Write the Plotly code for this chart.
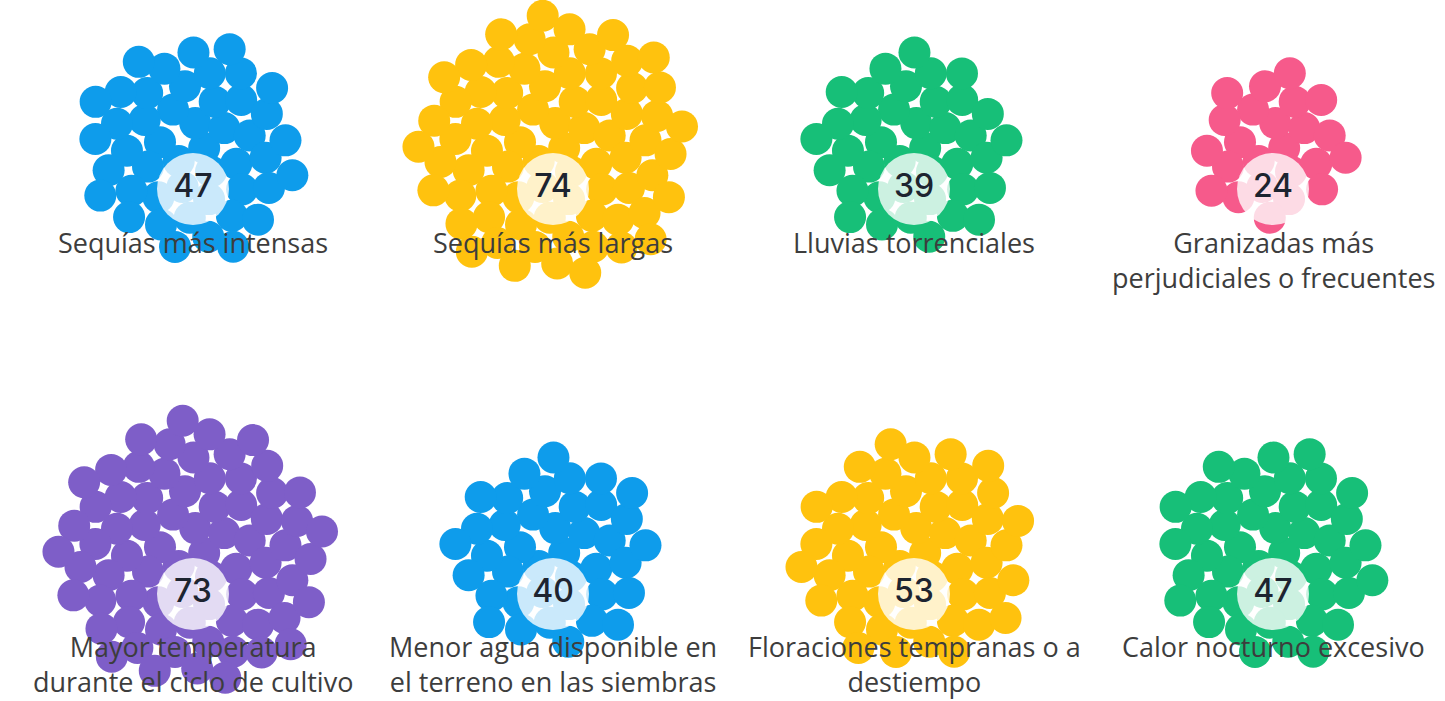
import math
import plotly.graph_objects as go

# ---- data ----
categories = [
    "Sequías más intensas",
    "Sequías más largas",
    "Lluvias torrenciales",
    "Granizadas más<br>perjudiciales o frecuentes",
    "Mayor temperatura<br>durante el ciclo de cultivo",
    "Menor agua disponible en<br>el terreno en las siembras",
    "Floraciones tempranas o a<br>destiempo",
    "Calor nocturno excesivo",
]
values = [47, 74, 39, 24, 73, 40, 53, 47]
colors = ["#0E9CEB", "#FFC20E", "#17BF78", "#F65A8B",
          "#7E5EC8", "#0E9CEB", "#FFC20E", "#17BF78"]

# ---- layout constants (pixel space) ----
W, H = 1445, 701
COL_X = [193, 553, 914, 1273]
CLUSTER_Y = [148, 553]
BADGE_DY = 41
LABEL_Y = [242, 646]   # middle of first label line
FONT_SIZE = 27
LINE_H = 1.3 * FONT_SIZE
DOT = 32
SPACING = 15.8
GOLDEN = math.pi * (3 - math.sqrt(5))

fig = go.Figure()
annotations = []

for idx, (cat, val, col) in enumerate(zip(categories, values, colors)):
    r, c = divmod(idx, 4)
    cx, cy = COL_X[c], CLUSTER_Y[r]
    xs, ys = [], []
    for i in range(val):
        rad = SPACING * math.sqrt(i + 0.5)
        th = i * GOLDEN
        xs.append(cx + rad * math.cos(th))
        ys.append(cy + rad * math.sin(th))
    fig.add_trace(go.Scatter(
        x=xs, y=ys, mode="markers",
        marker=dict(size=DOT, color=col, line=dict(width=0)),
        hoverinfo="skip", showlegend=False))
    fig.add_trace(go.Scatter(
        x=[cx], y=[cy + BADGE_DY], mode="markers+text",
        marker=dict(size=72, color="rgba(255,255,255,0.78)", line=dict(width=0)),
        text=[str(val)], textposition="middle center",
        textfont=dict(family="Inter", size=32, color="#1d2430", weight=500),
        hoverinfo="skip", showlegend=False))
    nlines = cat.count("<br>") + 1
    annotations.append(dict(
        x=cx, y=LABEL_Y[r] + (nlines - 1) * LINE_H / 2, xref="x", yref="y",
        text=cat, showarrow=False, xanchor="center", yanchor="middle",
        align="center",
        font=dict(family="Open Sans", size=FONT_SIZE, color="#3d3d3d")))

fig.update_layout(
    width=W, height=H,
    margin=dict(l=0, r=0, t=0, b=0),
    paper_bgcolor="white", plot_bgcolor="white",
    xaxis=dict(range=[0, W], visible=False, fixedrange=True),
    yaxis=dict(range=[H, 0], visible=False, fixedrange=True),
    annotations=annotations,
)

fig.write_html("out.html", config={"displayModeBar": False},
               post_script="document.body.style.margin='0';document.body.style.overflow='hidden';")
